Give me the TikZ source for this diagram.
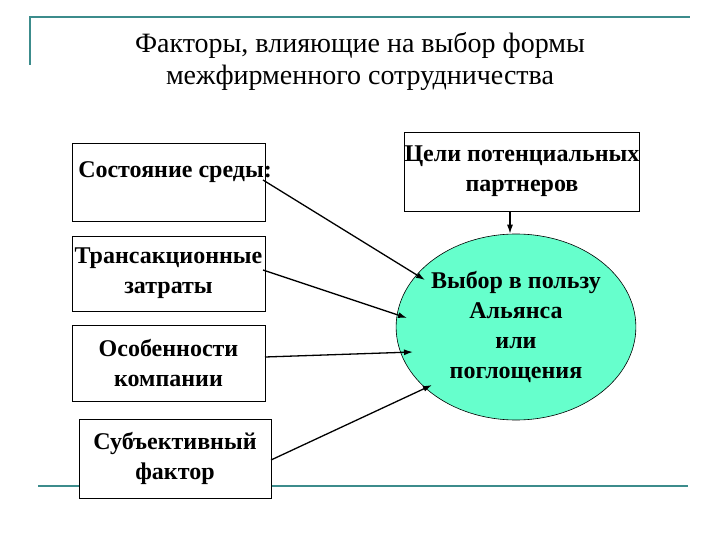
\documentclass[tikz,border=0pt]{standalone}
\usepackage{fontspec}
\setmainfont{Liberation Serif}
\usetikzlibrary{shapes.geometric,arrows.meta}
\definecolor{mint}{HTML}{66FFCC}
\definecolor{lineteal}{HTML}{3C8C8C}
\begin{document}
\begin{tikzpicture}[x=1pt,y=-1pt,
  box/.style={draw,line width=0.8pt,font=\bfseries\fontsize{24}{30}\selectfont,align=center,inner sep=0pt},
  arr/.style={-{Latex[length=9pt,width=6pt]},line width=1.3pt}]
\useasboundingbox (0,0) rectangle (720,540);
\draw[lineteal,line width=2pt] (30,65) -- (30,17) -- (690,17);
\draw[lineteal,line width=2pt] (38,486) -- (688,486);
\node[font=\fontsize{28}{32}\selectfont,align=center] (T) at (360,62) {Факторы, влияющие на выбор формы\\межфирменного сотрудничества};
\node[box,minimum width=193,minimum height=78,fill=white] (A) at (168.5,182) {};
\node[font=\bfseries\fontsize{24}{30}\selectfont] (At) at (175,172) {Состояние среды:};
\node[box,minimum width=193,minimum height=75,fill=white] (B) at (168.5,273.5) {Трансакционные\\затраты};
\node[box,minimum width=193,minimum height=76,fill=white] (C) at (168.5,363) {Особенности\\компании};
\node[box,minimum width=192,minimum height=79,fill=white] (D) at (175,458.5) {Субъективный\\фактор};
\node[box,minimum width=228,minimum height=79] (E) at (522,171.5) {Цели потенциальных\\партнеров};
\node[draw,ellipse,fill=mint,minimum width=216,minimum height=186,line width=0.6pt,inner sep=0pt,font=\bfseries\fontsize{24}{30}\selectfont,align=center] (F) at (516,327) {Выбор в пользу\\Альянса\\или\\поглощения};
\coordinate (a1) at (263,180); \coordinate (a2) at (425,280);
\coordinate (b1) at (263,270); \coordinate (b2) at (407,318);
\coordinate (c1) at (265,357); \coordinate (c2) at (413,352);
\coordinate (d1) at (271,460); \coordinate (d2) at (432,385);
\draw[arr] (a1) -- (a2);
\draw[arr] (b1) -- (b2);
\draw[arr] (c1) -- (c2);
\draw[arr] (d1) -- (d2);
\draw[arr] (E.south -| 510,0) -- (F.north -| 510,0);
\end{tikzpicture}
\end{document}
